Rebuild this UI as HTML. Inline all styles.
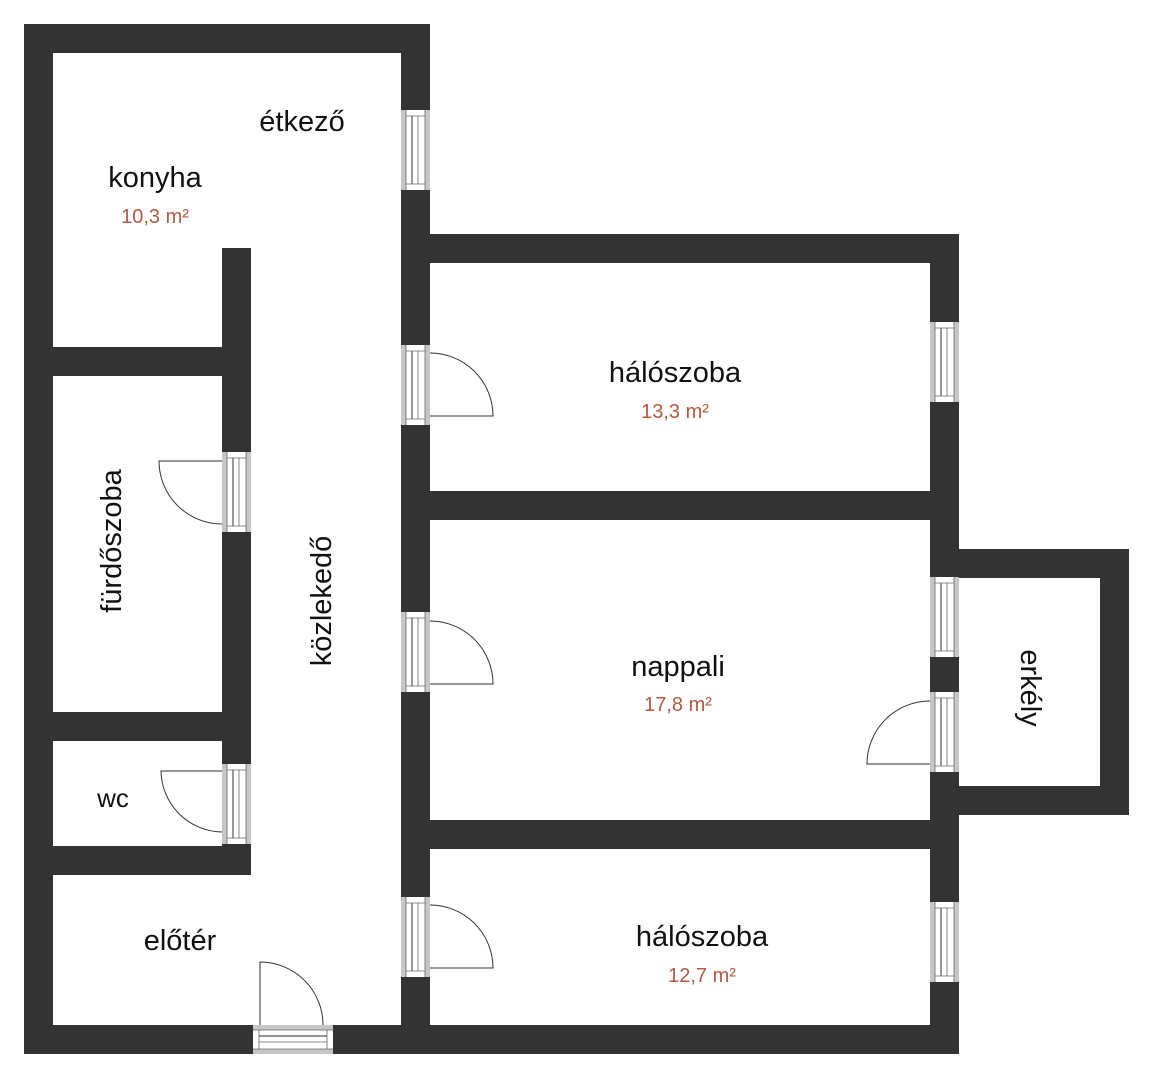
<!DOCTYPE html>
<html><head><meta charset="utf-8"><style>
html,body{margin:0;padding:0;background:#fff;}
svg{display:block;}
text{font-family:"Liberation Sans",sans-serif;}
.l{font-size:29px;fill:#111;text-anchor:middle;}
.a{font-size:20px;fill:#b9583f;text-anchor:middle;}
</style></head><body>
<svg width="1154" height="1080" viewBox="0 0 1154 1080" xmlns="http://www.w3.org/2000/svg">
<defs>
<g id="wv">
<rect x="0" y="0" width="29" height="80" fill="#c6c6c6"/>
<rect x="5" y="0" width="19" height="80" fill="#fff"/>
<line x1="5" y1="0" x2="5" y2="80" stroke="#666" stroke-width="0.8"/>
<line x1="24" y1="0" x2="24" y2="80" stroke="#666" stroke-width="0.8"/>
<line x1="11" y1="6" x2="11" y2="74" stroke="#555" stroke-width="1.2"/>
<line x1="17" y1="6" x2="17" y2="74" stroke="#888" stroke-width="1"/>
<line x1="5" y1="6" x2="24" y2="6" stroke="#666" stroke-width="0.8"/>
<line x1="5" y1="74" x2="24" y2="74" stroke="#666" stroke-width="0.8"/>
</g>
</defs>
<g fill="#333">
<rect x="24" y="24" width="29" height="1030"/>
<rect x="24" y="24" width="406" height="29"/>
<rect x="401" y="24" width="29" height="1030"/>
<rect x="401" y="234" width="558" height="29"/>
<rect x="930" y="234" width="29" height="820"/>
<rect x="401" y="491" width="558" height="29"/>
<rect x="401" y="820" width="558" height="29"/>
<rect x="930" y="549" width="199" height="29"/>
<rect x="1100" y="549" width="29" height="266"/>
<rect x="930" y="786" width="199" height="29"/>
<rect x="24" y="1025" width="935" height="29"/>
<rect x="222" y="248" width="29" height="627"/>
<rect x="24" y="347" width="227" height="29"/>
<rect x="24" y="712" width="227" height="29"/>
<rect x="24" y="846" width="227" height="29"/>
</g>
<use href="#wv" x="401" y="110"/>
<use href="#wv" x="401" y="345"/>
<use href="#wv" x="401" y="612"/>
<use href="#wv" x="401" y="897"/>
<use href="#wv" x="930" y="322"/>
<use href="#wv" x="930" y="577"/>
<use href="#wv" x="930" y="692"/>
<use href="#wv" x="930" y="902"/>
<use href="#wv" x="222" y="452"/>
<use href="#wv" x="222" y="764"/>
<use href="#wv" transform="translate(333,1025) rotate(90)"/>
<g fill="none" stroke="#333" stroke-width="1">
<path d="M430 353 A63 63 0 0 1 493 416 L430 416"/>
<path d="M430 621 A63 63 0 0 1 493 684 L430 684"/>
<path d="M430 905 A63 63 0 0 1 493 968 L430 968"/>
<path d="M930 701 A63 63 0 0 0 867 764 L930 764"/>
<path d="M222 461 L159 461 A63 63 0 0 0 222 524"/>
<path d="M222 771 L161 771 A62 62 0 0 0 222 832"/>
<path d="M260 1025 L260 962 A63 63 0 0 1 323 1025"/>
</g>
<text class="l" x="155" y="187">konyha</text>
<text class="a" x="155" y="223">10,3 m²</text>
<text class="l" x="302" y="131">étkező</text>
<text class="l" x="675" y="382">hálószoba</text>
<text class="a" x="675" y="418">13,3 m²</text>
<text class="l" x="678" y="676">nappali</text>
<text class="a" x="678" y="711">17,8 m²</text>
<text class="l" x="702" y="946">hálószoba</text>
<text class="a" x="702" y="982">12,7 m²</text>
<text class="l" x="180" y="950">előtér</text>
<text class="l" x="113" y="807" style="font-size:26px">wc</text>
<text class="l" transform="translate(121,541) rotate(-90)">fürdőszoba</text>
<text class="l" transform="translate(331,601) rotate(-90)">közlekedő</text>
<text class="l" transform="translate(1021,688) rotate(90)">erkély</text>
</svg>
</body></html>
